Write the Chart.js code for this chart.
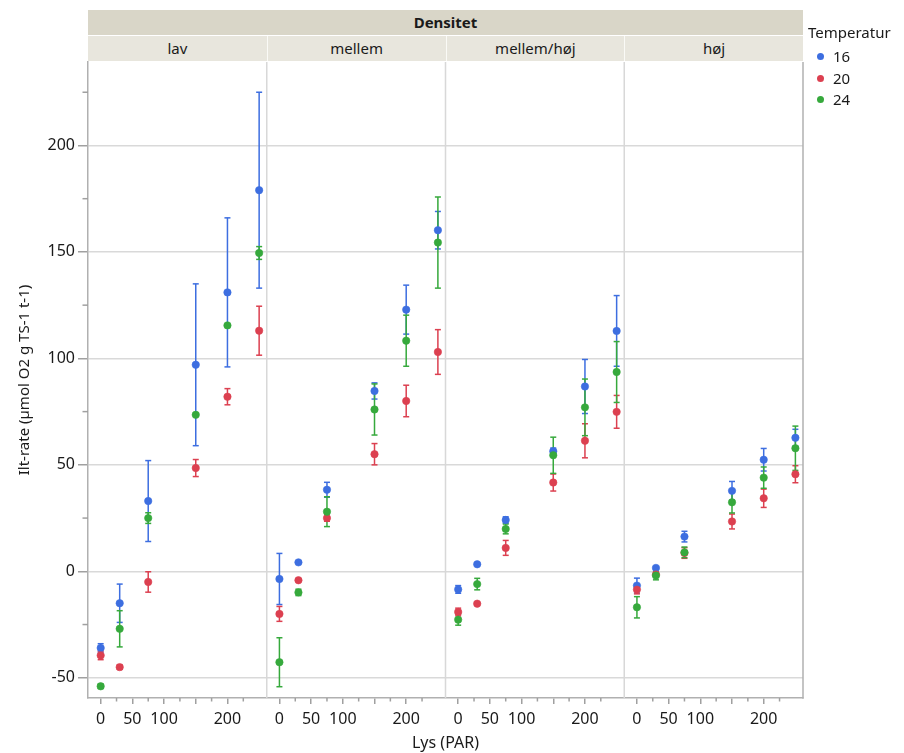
<!DOCTYPE html>
<html>
<head>
<meta charset="utf-8">
<script src="https://cdn.jsdelivr.net/npm/chart.js@4.4.1/dist/chart.umd.min.js"></script>
<style>
  body { margin: 0; background: #fff; font-family: "Noto Sans", "Open Sans", sans-serif; }
  #wrap { position: relative; width: 904px; height: 753px; overflow: hidden; }
  #c { position: absolute; left: 0; top: 0; }
  .strip { position: absolute; box-sizing: border-box; text-align: center; color: #1a1a1a; font-size: 15px; white-space: nowrap; }
  #hdr { top: 10px; height: 25px; line-height: 25px; background: #d9d6c8; font-weight: bold; }
  .sub { top: 36px; height: 25px; line-height: 24px; background: #e8e6dd; border-left: 1px solid #fafaf6; }
  #legend { position: absolute; left: 808px; top: 22px; color: #1a1a1a; font-size: 15px; }
  #legend .ttl { line-height: 20px; margin-bottom: 4px; }
  #legend .item { position: relative; height: 21.5px; line-height: 21.5px; padding-left: 25px; }
  #legend .dot { position: absolute; left: 9px; top: 7px; width: 7px; height: 7px; border-radius: 50%; }
</style>
</head>
<body>
<div id="wrap">
  <canvas id="c" width="904" height="753"></canvas>
  <div id="hdr" class="strip">Densitet</div>
  <div id="subs"></div>
  <div id="legend"></div>
</div>
<script>
// ---- data ----
const panels = ['lav', 'mellem', 'mellem/høj', 'høj'];
const lys = [0, 30, 75, 150, 200, 250];
const temps = ['16', '20', '24'];
const colors = ['#3d6ee0', '#dc4050', '#36a93c'];
// means and error half-widths, panel order: lav | mellem | mellem/høj | høj
const mean16 = [-36, -15, 33, 97, 131, 179,   -3.6, 4.2, 38.3, 84.7, 122.9, 160.2,   -8.5, 3.3, 24.1, 56.4, 86.8, 112.9,   -6.7, 1.6, 16.3, 37.8, 52.4, 62.7];
const err16  = [2, 9, 19, 38, 35, 46,          12, 0.5, 3.5, 3.8, 11.5, 8.8,          1.8, 0.5, 1.5, 1.5, 12.7, 16.6,        3.5, 0.5, 2.5, 4.4, 5.3, 4];
const mean20 = [-39.5, -45, -5, 48.5, 82, 113, -20, -4.2, 25, 55, 80, 103,            -19.1, -15.2, 11, 41.7, 61.3, 74.9,    -8.6, -1.5, 8.6, 23.4, 34.3, 45.6];
const err20  = [2, 1, 4.8, 4, 3.8, 11.5,       3.5, 0.5, 1.5, 5, 7.4, 10.5,           1.8, 0.5, 3.5, 4, 8, 7.7,              2, 1, 2.5, 3.5, 4.3, 4];
const mean24 = [-54, -27, 25, 73.5, 115.5, 149.5, -42.7, -9.9, 28, 76, 108.3, 154.4,  -22.7, -6, 19.9, 54.5, 77, 93.6,       -16.9, -2, 8.9, 32.4, 44, 57.8];
const err24  = [1, 8.5, 2.5, 0, 0, 3,          11.5, 1.5, 7, 12, 12, 21.4,            2.6, 2.7, 2.3, 8.5, 13.3, 14.3,        5, 2, 2.5, 5, 5, 10.4];
// ticks
const xMajor = [0, 50, 100, 150, 200];
const xMinor = [25, 75, 125, 175, 225];
const xLabeled = [0, 50, 100, 200];
const yMajor = [-50, 0, 50, 100, 150, 200];
const yMinor = [-25, 25, 75, 125, 175, 225];

// ---- panel layout on one shared linear x axis ----
const SPAN = 282, XLO = -20, XHI = 262;
const means = [mean16, mean20, mean24];
const errs = [err16, err20, err24];

const localOf = v => v - Math.floor((v - XLO) / SPAN) * SPAN;

const datasets = [];
temps.forEach((t, k) => {
  const pts = [], bars = [];
  panels.forEach((p, pi) => {
    lys.forEach((l, li) => {
      const i = pi * lys.length + li;
      const x = pi * SPAN + l;
      const m = means[k][i], e = errs[k][i];
      pts.push({ x, y: m });
      bars.push({ x, y: m - e }, { x, y: m + e }, { x, y: null });
    });
  });
  datasets.push({
    label: t, data: pts, order: 2 - k,
    pointRadius: 3.7, pointBackgroundColor: colors[k], pointBorderColor: colors[k], pointBorderWidth: 0.6,
    pointHoverRadius: 3.7
  });
  datasets.push({
    label: t + ' err', data: bars, order: 5 - k, showLine: true, spanGaps: false,
    borderColor: colors[k], borderWidth: 1.5,
    pointStyle: 'line', pointRadius: 3, pointBorderColor: colors[k], pointBorderWidth: 1.5, pointHoverRadius: 3
  });
});

const xTickVals = [];
panels.forEach((p, pi) => {
  [...xMajor, ...xMinor].sort((a, b) => a - b).forEach(v => xTickVals.push(pi * SPAN + v));
});
const yTickVals = [...yMajor, ...yMinor].sort((a, b) => a - b);

const line = (ctx, x1, y1, x2, y2) => { ctx.beginPath(); ctx.moveTo(x1, y1); ctx.lineTo(x2, y2); ctx.stroke(); };

const framePlugin = {
  id: 'frame',
  beforeDatasetsDraw(chart) {
    const { ctx, chartArea: a, scales: { x } } = chart;
    ctx.save();
    ctx.strokeStyle = '#d8d8d8'; ctx.lineWidth = 1.5;
    for (let i = 1; i < panels.length; i++) {
      const px = x.getPixelForValue(i * SPAN + XLO);
      line(ctx, px, a.top, px, a.bottom);
    }
    ctx.strokeStyle = '#b0b0b0';
    line(ctx, a.right, a.top, a.right, a.bottom + 0.75);
    ctx.restore();
  },
  afterDraw(chart) {
    const { ctx, chartArea: a, scales: { x, y } } = chart;
    ctx.save();
    ctx.strokeStyle = '#a0a0a0'; ctx.lineWidth = 1.5;
    panels.forEach((p, pi) => xMinor.forEach(v => {
      const px = x.getPixelForValue(pi * SPAN + v);
      line(ctx, px, a.bottom, px, a.bottom + 3.5);
    }));
    yMinor.forEach(v => {
      const py = y.getPixelForValue(v);
      line(ctx, a.left - 5.5, py, a.left, py);
    });
    ctx.restore();
    // strips
    const hdr = document.getElementById('hdr');
    hdr.style.left = a.left + 'px';
    hdr.style.width = (a.right - a.left) + 'px';
    const subs = document.getElementById('subs');
    if (!subs.childElementCount) {
      panels.forEach((p, pi) => {
        const d = document.createElement('div');
        d.className = 'strip sub';
        d.textContent = p;
        const l = x.getPixelForValue(pi * SPAN + XLO), r = x.getPixelForValue(pi * SPAN + XHI);
        d.style.left = l + 'px';
        d.style.width = (r - l) + 'px';
        if (pi === 0) d.style.borderLeft = 'none';
        subs.appendChild(d);
      });
    }
  }
};

// legend
const lg = document.getElementById('legend');
lg.innerHTML = '<div class="ttl">Temperatur</div>' +
  temps.map((t, k) => '<div class="item"><span class="dot" style="background:' + colors[k] + '"></span>' + t + '</div>').join('');

Chart.defaults.font.family = '"Noto Sans", "Open Sans", sans-serif';
Chart.defaults.color = '#1a1a1a';

new Chart(document.getElementById('c'), {
  type: 'scatter',
  data: { datasets },
  options: {
    responsive: false, animation: false, devicePixelRatio: 1, events: [],
    layout: { padding: { left: 0, right: 101, top: 62, bottom: 0 } },
    plugins: { legend: { display: false }, tooltip: { enabled: false } },
    scales: {
      x: {
        type: 'linear', min: XLO, max: (panels.length - 1) * SPAN + XHI,
        afterBuildTicks: s => { s.ticks = xTickVals.map(v => ({ value: v })); },
        afterFit: s => { s.height = 55; },
        ticks: {
          autoSkip: false, maxRotation: 0, minRotation: 0, padding: 6, font: { size: 16 }, color: '#1a1a1a',
          callback: v => { const l = Math.round(localOf(v)); return xLabeled.includes(l) ? String(l) : ''; }
        },
        grid: {
          drawOnChartArea: false, drawTicks: true, tickLength: 6, lineWidth: 1.5,
          tickColor: c => (c.tick && xMinor.includes(Math.round(localOf(c.tick.value)))) ? 'rgba(0,0,0,0)' : '#a0a0a0'
        },
        border: { display: true, color: '#b0b0b0', width: 1.5 },
        title: { display: true, text: 'Lys (PAR)', font: { size: 16 }, color: '#1a1a1a', padding: { top: 0, bottom: 0 } }
      },
      y: {
        type: 'linear', min: -59.5, max: 239.2,
        afterBuildTicks: s => { s.ticks = yTickVals.map(v => ({ value: v })); },
        afterFit: s => { s.width = 88; },
        ticks: { padding: 3, font: { size: 16 }, color: '#1a1a1a', callback: v => yMajor.includes(v) ? String(v) : '' },
        grid: {
          lineWidth: 1.5, tickLength: 10,
          color: c => (c.tick && yMinor.includes(c.tick.value)) ? 'rgba(0,0,0,0)' : '#d9d9d9',
          tickColor: c => (c.tick && yMinor.includes(c.tick.value)) ? 'rgba(0,0,0,0)' : '#a0a0a0'
        },
        border: { display: true, color: '#b0b0b0', width: 1.5 },
        title: { display: true, text: 'Ilt-rate (µmol O2 g TS-1 t-1)', font: { size: 15 }, color: '#1a1a1a', padding: { top: 16, bottom: 0 } }
      }
    }
  },
  plugins: [framePlugin]
});
</script>
</body>
</html>
